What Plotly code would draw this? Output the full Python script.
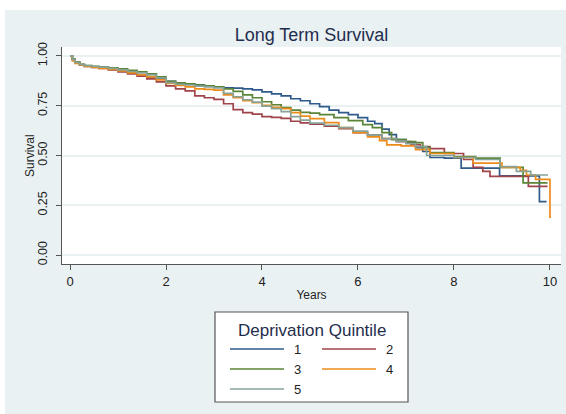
import plotly.graph_objects as go

# ---- data ----
groups = ["1", "2", "3", "4", "5"]
colors = ["#2e5b8c", "#a0444c", "#5a8436", "#ee8c1a", "#87a398"]

t1 = [0, 0.05, 0.1, 0.2, 0.3, 0.45, 0.6, 0.8, 1.0, 1.2, 1.4, 1.6, 1.8, 2.0, 2.2, 2.4, 2.6, 2.8, 3.0, 3.2,
      3.4, 3.6, 3.8, 4.0, 4.2, 4.4, 4.6, 4.8, 5.0, 5.2, 5.4, 5.6, 5.8, 6.0, 6.2, 6.35, 6.5, 6.65, 6.8, 7.0,
      7.2, 7.35, 7.5, 7.8, 8.15, 8.95, 9.78, 9.93]
s1 = [1.0, 0.985, 0.97, 0.957, 0.95, 0.945, 0.94, 0.933, 0.925, 0.915, 0.905, 0.895, 0.885, 0.872, 0.865,
      0.86, 0.855, 0.85, 0.845, 0.84, 0.838, 0.835, 0.83, 0.82, 0.81, 0.80, 0.785, 0.775, 0.76, 0.745, 0.728,
      0.715, 0.705, 0.69, 0.672, 0.66, 0.632, 0.605, 0.58, 0.565, 0.54, 0.52, 0.49, 0.487, 0.437, 0.398,
      0.268, 0.268]

t2 = [0, 0.05, 0.1, 0.2, 0.3, 0.45, 0.6, 0.8, 1.0, 1.2, 1.4, 1.6, 1.8, 2.0, 2.2, 2.4, 2.6, 2.8, 3.0, 3.2,
      3.4, 3.6, 3.8, 4.0, 4.2, 4.4, 4.6, 4.8, 5.0, 5.3, 5.6, 5.9, 6.2, 6.5, 6.8, 7.1, 7.3, 7.5, 7.8, 8.2,
      8.4, 8.6, 8.75, 9.55, 9.95]
s2 = [1.0, 0.98, 0.965, 0.955, 0.948, 0.942, 0.937, 0.93, 0.92, 0.91, 0.898, 0.885, 0.87, 0.85, 0.835,
      0.825, 0.8, 0.79, 0.782, 0.76, 0.73, 0.715, 0.708, 0.695, 0.692, 0.686, 0.672, 0.664, 0.657, 0.648,
      0.635, 0.615, 0.602, 0.585, 0.57, 0.555, 0.545, 0.535, 0.51, 0.48, 0.44, 0.42, 0.395, 0.345, 0.345]

t3 = [0, 0.05, 0.1, 0.2, 0.3, 0.45, 0.6, 0.8, 1.0, 1.2, 1.4, 1.6, 1.8, 2.0, 2.2, 2.4, 2.6, 2.8, 3.0, 3.2,
      3.4, 3.6, 3.8, 4.0, 4.2, 4.4, 4.6, 4.8, 5.0, 5.2, 5.5, 5.8, 6.1, 6.3, 6.5, 6.7, 7.0, 7.2, 7.35, 7.5,
      8.0, 8.45, 8.96, 9.44, 9.95]
s3 = [1.0, 0.985, 0.97, 0.958, 0.952, 0.948, 0.945, 0.94, 0.935, 0.928, 0.92, 0.91, 0.895, 0.872, 0.865,
      0.86, 0.853, 0.85, 0.845, 0.835, 0.822, 0.805, 0.79, 0.77, 0.755, 0.74, 0.728, 0.717, 0.713, 0.705,
      0.69, 0.675, 0.655, 0.64, 0.615, 0.58, 0.57, 0.565, 0.54, 0.515, 0.495, 0.487, 0.44, 0.362, 0.362]

t4 = [0, 0.05, 0.1, 0.2, 0.3, 0.45, 0.6, 0.8, 1.0, 1.2, 1.4, 1.6, 1.8, 2.0, 2.2, 2.4, 2.6, 2.8, 3.0, 3.2,
      3.4, 3.6, 3.8, 4.0, 4.2, 4.4, 4.6, 4.8, 5.0, 5.3, 5.6, 5.9, 6.2, 6.45, 6.6, 6.9, 7.2, 7.5, 8.0, 8.4,
      9.0, 9.38, 9.51, 9.7, 10.0, 10.02]
s4 = [1.0, 0.975, 0.963, 0.955, 0.948, 0.943, 0.938, 0.932, 0.925, 0.915, 0.905, 0.895, 0.88, 0.862, 0.852,
      0.845, 0.835, 0.832, 0.828, 0.805, 0.79, 0.775, 0.765, 0.752, 0.742, 0.735, 0.715, 0.698, 0.685,
      0.665, 0.64, 0.615, 0.594, 0.575, 0.553, 0.548, 0.53, 0.51, 0.49, 0.462, 0.44, 0.425, 0.402, 0.38,
      0.19, 0.19]

t5 = [0, 0.05, 0.1, 0.2, 0.3, 0.45, 0.6, 0.8, 1.0, 1.2, 1.4, 1.6, 1.8, 2.0, 2.2, 2.4, 2.6, 2.8, 3.0, 3.2,
      3.4, 3.6, 3.8, 4.0, 4.2, 4.4, 4.6, 4.8, 5.0, 5.3, 5.6, 5.9, 6.2, 6.5, 6.8, 7.0, 7.2, 7.43, 8.0, 8.45,
      8.96, 9.3, 9.6, 9.96]
s5 = [1.0, 0.983, 0.968, 0.957, 0.951, 0.947, 0.944, 0.938, 0.93, 0.922, 0.915, 0.905, 0.89, 0.866, 0.858,
      0.854, 0.848, 0.845, 0.84, 0.812, 0.795, 0.78, 0.768, 0.748, 0.735, 0.72, 0.695, 0.678, 0.663, 0.652,
      0.64, 0.622, 0.602, 0.585, 0.572, 0.56, 0.545, 0.5, 0.49, 0.48, 0.444, 0.42, 0.402, 0.402]

times = [t1, t2, t3, t4, t5]
survs = [s1, s2, s3, s4, s5]

title_text = "Long Term Survival"
legend_title = "Deprivation Quintile"
x_title = "Years"
y_title = "Survival"
x_ticks = [0, 2, 4, 6, 8, 10]
y_ticks = [0, 0.25, 0.5, 0.75, 1.0]

# ---- layout geometry (pixels) ----
W, H = 566, 414
L, R, T, B = 62, 5, 47, 150
pw, ph = W - L - R, H - T - B


def px(x):
    return (x - L) / pw


def py(y):
    return (H - B - y) / ph


fig = go.Figure()
for g, c, t, s in zip(groups, colors, times, survs):
    fig.add_trace(go.Scatter(x=t, y=s, mode="lines", name=g,
                             line=dict(color=c, width=1.7, shape="hv"),
                             showlegend=False))

shapes = [
    dict(type="rect", xref="paper", yref="paper", x0=px(5), x1=px(W + 5), y0=py(H + 5), y1=py(10),
         fillcolor="#eaf1f3", line=dict(width=0), layer="below"),
    dict(type="rect", xref="paper", yref="paper", x0=0, x1=1, y0=0, y1=1,
         fillcolor="white", line=dict(width=0), layer="below"),
    dict(type="rect", xref="paper", yref="paper", x0=px(215), x1=px(408), y0=py(402), y1=py(312),
         fillcolor="white", line=dict(color="#555555", width=1.2), layer="above"),
]
annotations = [
    dict(text=legend_title, xref="paper", yref="paper", x=px(311.5), y=py(330),
         xanchor="center", yanchor="middle", showarrow=False,
         font=dict(size=17, color="#1f2d4d")),
    dict(text=y_title, xref="paper", yref="paper", x=px(30), y=py(156),
         xanchor="center", yanchor="middle", showarrow=False, textangle=-90,
         font=dict(size=12, color="#222222")),
]
legend_pos = [(230, 349), (322, 349), (230, 369), (322, 369), (230, 389)]
for g, c, (lx, ly) in zip(groups, colors, legend_pos):
    shapes.append(dict(type="line", xref="paper", yref="paper", x0=px(lx), x1=px(lx + 54),
                       y0=py(ly), y1=py(ly), line=dict(color=c, width=1.7)))
    annotations.append(dict(text=g, xref="paper", yref="paper", x=px(lx + 62), y=py(ly),
                            xanchor="left", yanchor="middle", showarrow=False,
                            font=dict(size=13, color="#222222")))

fig.update_layout(
    width=W, height=H,
    margin=dict(l=L, r=R, t=T, b=B, pad=0),
    paper_bgcolor="white", plot_bgcolor="white",
    font=dict(family="Arial, Liberation Sans, sans-serif", size=12, color="#222222"),
    title=dict(text=title_text, x=px(311.5), xref="paper", xanchor="center",
               y=1 - 35 / H, yref="container", yanchor="middle",
               font=dict(size=18, color="#1f2d4d")),
    shapes=shapes, annotations=annotations,
    showlegend=False,
)
fig.update_xaxes(range=[-0.167, 10.23], tickvals=x_ticks, ticks="outside", ticklen=5,
                 tickcolor="#555555", showline=True, linecolor="#555555", linewidth=1.3,
                 showgrid=False, zeroline=False,
                 title=dict(text=x_title, standoff=2, font=dict(size=12)),
                 tickfont=dict(size=13))
fig.update_yaxes(range=[-0.045, 1.045], tickvals=y_ticks, tickformat=".2f", tickangle=-90,
                 ticks="outside", ticklen=5, tickcolor="#555555", showline=True,
                 linecolor="#555555", linewidth=1.3, showgrid=True, gridcolor="#eaf1f3",
                 gridwidth=1.5, zeroline=False, ticklabelstandoff=4,
                 tickfont=dict(size=12.5))

fig.write_html("out.html")
